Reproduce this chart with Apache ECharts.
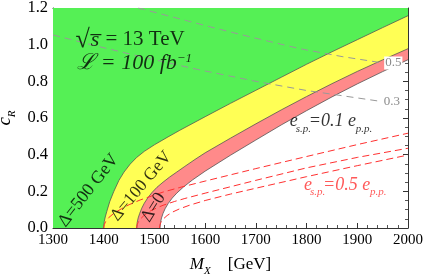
<!DOCTYPE html>
<html><head><meta charset="utf-8">
<script src="https://cdn.jsdelivr.net/npm/echarts@6/dist/echarts.min.js"></script>
<style>html,body{margin:0;padding:0;background:#fff}#c{width:423px;height:279px}</style>
</head><body><div id="c"></div>
<script>
// Region boundaries (e_sp = 0.1 e_pp), M_X [GeV] vs c_R
const delta500 = [[1400,0],[1401,0.035],[1403,0.06],[1406,0.09],[1412,0.145],[1420,0.2],[1430,0.26],[1440,0.305],[1452,0.348],[1465,0.385],[1480,0.418],[1500,0.454],[1525,0.494],[1550,0.533],[1600,0.607],[1650,0.68],[1700,0.751],[1750,0.822],[1800,0.893],[1850,0.961],[1900,1.027],[1950,1.093],[2000,1.158]];
const delta100 = [[1465,0],[1466,0.03],[1468,0.055],[1471,0.08],[1475,0.108],[1480,0.135],[1487,0.165],[1495,0.193],[1505,0.222],[1517,0.25],[1530,0.278],[1544,0.305],[1560,0.336],[1580,0.374],[1600,0.41],[1650,0.49],[1700,0.568],[1750,0.644],[1800,0.717],[1850,0.787],[1900,0.854],[1950,0.917],[2000,0.978]];
const delta0 = [[1511,0],[1512,0.03],[1514,0.055],[1517,0.08],[1521,0.105],[1527,0.133],[1535,0.163],[1544,0.19],[1557,0.223],[1575,0.262],[1600,0.31],[1650,0.397],[1700,0.48],[1750,0.562],[1800,0.64],[1850,0.715],[1900,0.786],[1950,0.853],[2000,0.918]];
// e_sp = 0.5 e_pp curves (red dashed)
const red500 = [[1400,0],[1401,0.018],[1404,0.036],[1410,0.057],[1420,0.08],[1435,0.105],[1450,0.127],[1472,0.153],[1495,0.175],[1517,0.196],[1550,0.221],[1600,0.256],[1700,0.324],[1800,0.39],[1900,0.455],[2000,0.517]];
const red100 = [[1465,0],[1466,0.018],[1468,0.032],[1472,0.048],[1480,0.07],[1492,0.093],[1505,0.11],[1517,0.124],[1540,0.145],[1560,0.161],[1600,0.19],[1650,0.225],[1700,0.26],[1800,0.328],[1900,0.385],[2000,0.435]];
const red0 = [[1510,0],[1511,0.018],[1513,0.032],[1517,0.048],[1525,0.068],[1535,0.086],[1550,0.105],[1570,0.125],[1600,0.15],[1650,0.185],[1700,0.217],[1800,0.28],[1900,0.34],[2000,0.398]];
// gray dashed contours
const gray05 = [[1468,1.2],[1540,1.148],[1620,1.09],[1700,1.035],[1787,0.978],[1870,0.935],[1951,0.9]];
const gray03 = [[1300,1.053],[1375,1.0],[1450,0.95],[1520,0.905],[1590,0.862],[1700,0.8],[1800,0.75],[1948,0.69]];
const xTickLabels = ['1300','1400','1500','1600','1700','1800','1900','2000'];
const yTickLabels = ['0.0','0.2','0.4','0.6','0.8','1.0','1.2'];

const serif = "'Liberation Serif', 'DejaVu Serif', serif";
const X0 = 1300, X1 = 2000, Y0 = 0, Y1 = 1.2;
const withBase = arr => [[X0,0]].concat(arr);

function frameX(pos, labels){
  return {type:'value',min:X0,max:X1,interval:100,position:pos,
    axisLine:{show:true,onZero:false,lineStyle:{color:'#333',width:1}},
    axisTick:{show:true,inside:true,length:5,lineStyle:{color:'#333'}},
    minorTick:{show:true,splitNumber:5,length:3,lineStyle:{color:'#555'}},
    splitLine:{show:false},
    axisLabel:{show:labels,fontFamily:serif,fontSize:15,color:'#000',margin:5,
      formatter:v=>xTickLabels[Math.round((v-X0)/100)]}};
}
function frameY(pos, labels){
  return {type:'value',min:Y0,max:Y1,interval:0.2,position:pos,
    axisLine:{show:true,onZero:false,lineStyle:{color:'#333',width:1}},
    axisTick:{show:true,inside:true,length:5,lineStyle:{color:'#333'}},
    minorTick:{show:true,splitNumber:4,length:3,lineStyle:{color:'#555'}},
    splitLine:{show:false},
    axisLabel:{show:labels,fontFamily:serif,fontSize:16.5,color:'#000',margin:5,
      formatter:v=>yTickLabels[Math.round(v/0.2)]}};
}
const xa = frameX('bottom', true);
xa.name = '{m|M}{s|X}{t|    [GeV]}';
xa.nameLocation = 'middle'; xa.nameGap = 32;
xa.nameTextStyle = {rich:{
  m:{fontFamily:serif,fontStyle:'italic',fontSize:17,color:'#000',lineHeight:17,padding:[0,0,4,0],verticalAlign:'bottom'},
  s:{fontFamily:serif,fontStyle:'italic',fontSize:11,color:'#000',lineHeight:11,verticalAlign:'bottom'},
  t:{fontFamily:serif,fontSize:17,color:'#000',lineHeight:17,padding:[0,0,4,0],verticalAlign:'bottom'}}};
const ya = frameY('left', true);
ya.name = '{c|c}{s|R}';
ya.nameLocation = 'middle'; ya.nameGap = 35; ya.nameRotate = 90; ya.nameMoveOverlap = false;
ya.nameTextStyle = {rich:{
  c:{fontFamily:serif,fontStyle:'italic',fontSize:19,color:'#000',lineHeight:17,padding:[0,0,4,0],verticalAlign:'bottom'},
  s:{fontFamily:serif,fontStyle:'italic',fontSize:11,color:'#000',lineHeight:11,verticalAlign:'bottom'}}};

const area = (data, color) => ({type:'line',data:withBase(data),showSymbol:false,smooth:false,
  lineStyle:{width:0},areaStyle:{color:color,opacity:1,origin:'end'},silent:true,xAxisIndex:0,yAxisIndex:0});
const curve = (data, color, width, type) => ({type:'line',data:data,showSymbol:false,smooth:false,
  lineStyle:{color:color,width:width,type:type},silent:true,xAxisIndex:0,yAxisIndex:0});

const grayDash = [7,5], redDash = [7,4];
const g05 = curve(gray05,'#999',1,grayDash);
g05.endLabel = {show:true,formatter:'0.5',color:'#8a8a8a',backgroundColor:'#fff',fontFamily:serif,fontSize:13,distance:1,padding:[0,1,0,1]};
const g03 = curve(gray03,'#999',1,grayDash);
g03.endLabel = {show:true,formatter:'0.3',color:'#8a8a8a',backgroundColor:'#fff',fontFamily:serif,fontSize:13,distance:1,padding:[0,1,0,1]};

const txt = {fontFamily:serif,color:'#000'};
const espRich = (col) => ({
  e:{fontFamily:serif,fontStyle:'italic',fontSize:18,color:col,lineHeight:17,padding:[0,0,4,0],verticalAlign:'bottom'},
  s:{fontFamily:serif,fontStyle:'italic',fontSize:11,color:col,lineHeight:11,verticalAlign:'bottom',width:11,align:'left'},
  p:{fontFamily:serif,fontStyle:'italic',fontSize:11,color:col,lineHeight:11,verticalAlign:'bottom',width:16,align:'left'}});

const lab = (o) => Object.assign({show:true,position:'inside',align:'center',verticalAlign:'middle'}, o);
const notes = {type:'scatter',symbolSize:0,silent:true,z:10,xAxisIndex:0,yAxisIndex:0,
  data:[
    {value:[1452,1.026],label:lab({formatter:'{r|\u221A}{s|s\u0305}{t| = 13 TeV}',
      rich:{r:{...txt,fontSize:26},s:{...txt,fontStyle:'italic',fontSize:22,padding:[0,1,0,1]},t:{...txt,fontSize:21}}})},
    {value:[1461,0.9],label:lab({formatter:'{l|\u2112 = 100 fb}{p|\u22121}',
      rich:{l:{...txt,fontStyle:'italic',fontSize:22,lineHeight:22,verticalAlign:'bottom'},
            p:{...txt,fontStyle:'italic',fontSize:13,lineHeight:13,verticalAlign:'top'}}})},
    {value:[1370,0.205],label:lab({rotate:52,formatter:'\u0394=500 GeV',...txt,fontSize:18})},
    {value:[1474,0.228],label:lab({rotate:50,formatter:'\u0394=100 GeV',...txt,fontSize:17.5})},
    {value:[1498,0.112],label:lab({rotate:58,formatter:'\u0394=0',...txt,fontSize:18})},
    {value:[1848,0.555],label:lab({formatter:'{e|e}{s|s.p.}{e|=0.1 e}{p|p.p.}',rich:espRich('#000')})},
    {value:[1876,0.21],label:lab({formatter:'{e|e}{s|s.p.}{e|=0.5 e}{p|p.p.}',rich:espRich('#ff3030')})}
  ]};

const chart = echarts.init(document.getElementById('c'),null,{renderer:'canvas'});
chart.setOption({
  animation:false,
  backgroundColor:'#fff',
  grid:{left:53,right:15,top:8,bottom:51,containLabel:false,outerBoundsMode:'none'},
  xAxis:[xa, frameX('top', false)],
  yAxis:[ya, frameY('right', false)],
  series:[
    area(delta0,'#ff8a8a'),
    area(delta100,'#ffff55'),
    area(delta500,'#55f055'),
    curve(delta0,'#555',0.8,'solid'),
    curve(delta100,'#555',0.8,'solid'),
    curve(delta500,'#555',0.8,'solid'),
    curve(red500,'#ff3030',1,redDash),
    curve(red100,'#ff3030',1,redDash),
    curve(red0,'#ff3030',1,redDash),
    g05, g03,
    notes
  ]
});
</script></body></html>
